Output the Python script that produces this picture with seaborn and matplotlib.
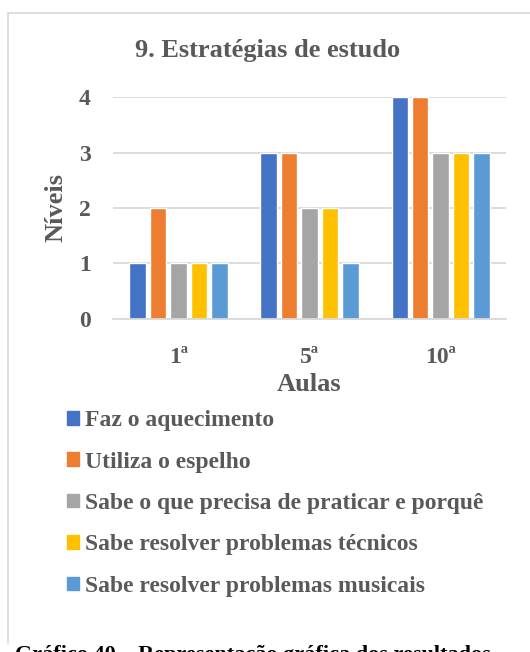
import pandas as pd
import seaborn as sns
from matplotlib import pyplot as plt
from matplotlib.lines import Line2D

# data
aulas = ["1ª", "5ª", "10ª"]
estrategias = [
    "Faz o aquecimento",
    "Utiliza o espelho",
    "Sabe o que precisa de praticar e porquê",
    "Sabe resolver problemas técnicos",
    "Sabe resolver problemas musicais",
]
aquecimento = [1, 3, 4]
espelho = [2, 3, 4]
praticar = [1, 2, 3]
tecnicos = [1, 2, 3]
musicais = [1, 1, 3]
cores = ["#4472C4", "#ED7D31", "#A5A5A5", "#FFC000", "#5B9BD5"]

series = [aquecimento, espelho, praticar, tecnicos, musicais]
rows = []
for nome, valores in zip(estrategias, series):
    for aula, v in zip(aulas, valores):
        rows.append({"Aulas": aula, "Níveis": v, "Estratégia": nome})
df = pd.DataFrame(rows)

sns.set_theme(style="white")
plt.rcParams["font.family"] = ["Liberation Serif", "DejaVu Serif"]
plt.rcParams["font.weight"] = "bold"
cinza = "#595959"

fig = plt.figure(figsize=(5.3, 6.52), dpi=100)
ax = fig.add_axes([0.213, 0.511, 0.742, 0.340])

sns.barplot(data=df, x="Aulas", y="Níveis", hue="Estratégia", order=aulas,
            hue_order=estrategias, palette=cores, width=0.78, gap=0.2,
            saturation=1, legend=False, ax=ax)

ax.set_ylim(0, 4)
ax.set_yticks([0, 1, 2, 3, 4])
ax.yaxis.grid(True, color="#D9D9D9", linewidth=1.3)
ax.set_axisbelow(True)
for lado in ["top", "right", "left"]:
    ax.spines[lado].set_visible(False)
ax.spines["bottom"].set_color("#D9D9D9")
ax.spines["bottom"].set_linewidth(1.3)
ax.tick_params(axis="both", length=0, labelsize=17, colors=cinza)
ax.tick_params(axis="y", pad=16)
ax.tick_params(axis="x", pad=20)
for t in ax.get_xticklabels() + ax.get_yticklabels():
    t.set_fontweight("bold")

ax.set_xlabel("Aulas", fontsize=19, fontweight="bold", color=cinza, labelpad=4)
ax.set_ylabel("Níveis", fontsize=19, fontweight="bold", color=cinza, labelpad=8)
fig.text(0.505, 0.922, "9. Estratégias de estudo", ha="center", va="center",
         fontsize=19, fontweight="bold", color=cinza)

handles = [plt.Rectangle((0, 0), 1, 1, color=c) for c in cores]
fig.legend(handles, estrategias, loc="upper left", bbox_to_anchor=(0.104, 0.389),
           frameon=False, borderpad=0, labelcolor=cinza, handlelength=0.5,
           handleheight=0.5, handletextpad=0.25, labelspacing=0.865,
           prop={"weight": "bold", "size": 17})

# chart border
borda = "#D9D9D9"
fig.add_artist(Line2D([8 / 530, 1.0], [1 - 13 / 652, 1 - 13 / 652], color=borda, lw=1.2))
fig.add_artist(Line2D([8 / 530, 8 / 530], [1 - 13 / 652, 1 - 643 / 652], color=borda, lw=1.2))

# caption below the chart, cut off by the image edge
fig.text(15 / 530, 1 - 645 / 652, "Gráfico 40 – Representação gráfica dos resultados",
         ha="left", va="top", fontsize=16, fontweight="bold", color="black")

fig.savefig("out.png", dpi=100)
